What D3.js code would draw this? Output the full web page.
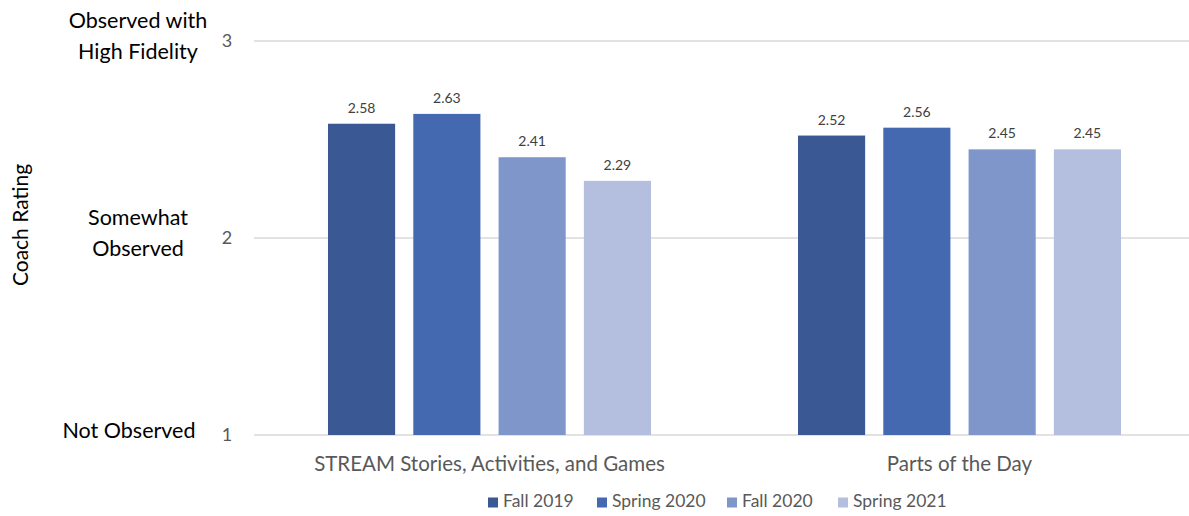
<!DOCTYPE html>
<html>
<head>
<meta charset="utf-8">
<script src="https://cdn.jsdelivr.net/npm/d3@7"></script>
<style>
  body { margin: 0; background: #fff; }
  svg { font-family: Lato, "Open Sans", sans-serif; }
</style>
</head>
<body>
<svg id="chart" width="1189" height="516"></svg>
<script>
const categories = ["STREAM Stories, Activities, and Games", "Parts of the Day"];
const seriesNames = ["Fall 2019", "Spring 2020", "Fall 2020", "Spring 2021"];
const fall2019 = [2.58, 2.52];
const spring2020 = [2.63, 2.56];
const fall2020 = [2.41, 2.45];
const spring2021 = [2.29, 2.45];
const yTicks = [1, 2, 3];
const levelLabels = [["Not Observed"], ["Somewhat", "Observed"], ["Observed with", "High Fidelity"]];

const colors = ["#3a5894", "#4569b1", "#7f96cb", "#b4bfdf"];
const allSeries = [fall2019, spring2020, fall2020, spring2021];

const width = 1189;
const svg = d3.select("#chart");

const x0 = d3.scaleBand().domain(categories).range([254.5, 1194.5]).paddingInner(0).paddingOuter(0);
const x1 = d3.scaleBand().domain(seriesNames).range([0, x0.bandwidth()]).paddingInner(0.213).paddingOuter(0.862);
const y = d3.scaleLinear().domain([1, 3]).range([435, 41]);

// gridlines
svg.append("g")
  .selectAll("line")
  .data(yTicks)
  .join("line")
  .attr("x1", 254).attr("x2", width)
  .attr("y1", d => y(d)).attr("y2", d => y(d))
  .attr("stroke", "#d9d9d9").attr("stroke-width", 1.3);

// y tick numbers
svg.append("g")
  .selectAll("text")
  .data(yTicks)
  .join("text")
  .attr("x", 227).attr("y", d => y(d) + 6)
  .attr("text-anchor", "middle")
  .attr("fill", "#595959").attr("font-size", 18)
  .text(d => d);

// level labels
const lvl = svg.append("g");
yTicks.forEach((t, i) => {
  const lines = levelLabels[i];
  const cx = lines.length === 1 ? 129 : 138;
  const lh = 31;
  const start = lines.length === 1 ? y(t) + 3 : y(t) - lh / 2 + 2;
  lines.forEach((l, j) => {
    lvl.append("text")
      .attr("x", cx).attr("y", start + j * lh)
      .attr("text-anchor", "middle")
      .attr("fill", "#000").attr("font-size", 21.5)
      .text(l);
  });
});

// axis title
svg.append("text")
  .attr("transform", "translate(28,225) rotate(-90)")
  .attr("text-anchor", "middle")
  .attr("fill", "#000").attr("font-size", 21)
  .text("Coach Rating");

// bars
const groups = svg.append("g")
  .selectAll("g")
  .data(categories)
  .join("g")
  .attr("transform", d => `translate(${x0(d)},0)`);

groups.selectAll("rect")
  .data((c, ci) => seriesNames.map((s, si) => ({ s, si, v: allSeries[si][ci] })))
  .join("rect")
  .attr("x", d => x1(d.s))
  .attr("width", x1.bandwidth())
  .attr("y", d => y(d.v))
  .attr("height", d => y(1) - y(d.v))
  .attr("fill", d => colors[d.si]);

groups.selectAll("text")
  .data((c, ci) => seriesNames.map((s, si) => ({ s, si, v: allSeries[si][ci] })))
  .join("text")
  .attr("x", d => x1(d.s) + x1.bandwidth() / 2)
  .attr("y", d => y(d.v) - 11)
  .attr("text-anchor", "middle")
  .attr("fill", "#404040").attr("font-size", 14)
  .text(d => d.v.toFixed(2));

// x labels
svg.append("g")
  .selectAll("text")
  .data(categories)
  .join("text")
  .attr("x", d => x0(d) + x0.bandwidth() / 2)
  .attr("y", 471)
  .attr("text-anchor", "middle")
  .attr("fill", "#595959").attr("font-size", 20.5)
  .text(d => d);

// legend
const legendX = [488, 597, 727, 838];
const legend = svg.append("g")
  .selectAll("g")
  .data(seriesNames)
  .join("g")
  .attr("transform", (d, i) => `translate(${legendX[i]},507)`);
legend.append("rect")
  .attr("x", 0).attr("y", -9.5).attr("width", 10).attr("height", 10)
  .attr("fill", (d, i) => colors[i]);
legend.append("text")
  .attr("x", 15).attr("y", 0)
  .attr("fill", "#595959").attr("font-size", 17.5)
  .text(d => d);
</script>
</body>
</html>
